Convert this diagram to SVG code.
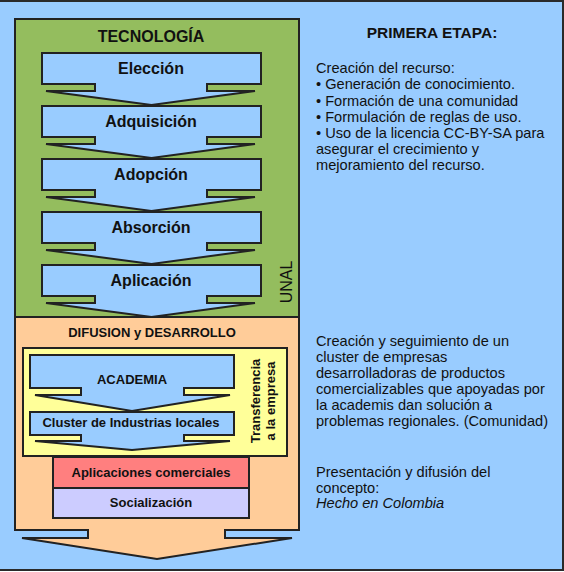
<svg xmlns="http://www.w3.org/2000/svg" width="564" height="572" viewBox="0 0 564 572">
<style>
.sh{stroke:#222;stroke-width:2;stroke-linejoin:miter}
.chev{fill:#99ccff}
.t{font-family:"Liberation Sans",Arial,sans-serif;fill:#111}
.b{font-weight:bold}
.c{text-anchor:middle}
.s16{font-size:16px}
.s13{font-size:13px}
.body{font-size:14.6px}
</style>
<rect x="-2" y="1" width="565" height="569" fill="#99ccff" stroke="#2a2a2a" stroke-width="2"/>

<g id="difusion">
  <path class="sh" fill="#ffcc99" d="M15,317 H299 V530 H225 V538 H292 L157,559 L22,538 H88 V530 H15 Z"/>
  <text class="t b c s13" x="152" y="337">DIFUSION y DESARROLLO</text>
</g>

<g id="tecnologia">
  <rect class="sh" x="15" y="19" width="284" height="298" fill="#94bd5e"/>
  <text class="t b c s16" x="151" y="42">TECNOLOGÍA</text>
  <text class="t c s16" transform="translate(292,282) rotate(-90)">UNAL</text>
</g>

<g id="eleccion">
  <path class="sh chev" d="M42,53 H261 V84 H207 V91 H255 L151.5,105 L46,91 H95 V84 H42 Z"/>
  <text class="t b c s16" x="151" y="74">Elección</text>
</g>
<g id="adquisicion">
  <path class="sh chev" d="M42,106 H261 V137 H207 V144 H255 L151.5,158 L46,144 H95 V137 H42 Z"/>
  <text class="t b c s16" x="151" y="127">Adquisición</text>
</g>
<g id="adopcion">
  <path class="sh chev" d="M42,159 H261 V190 H207 V197 H255 L151.5,211 L46,197 H95 V190 H42 Z"/>
  <text class="t b c s16" x="151" y="180">Adopción</text>
</g>
<g id="absorcion">
  <path class="sh chev" d="M42,212 H261 V243 H207 V250 H255 L151.5,264 L46,250 H95 V243 H42 Z"/>
  <text class="t b c s16" x="151" y="233">Absorción</text>
</g>
<g id="aplicacion">
  <path class="sh chev" d="M42,265 H261 V296 H207 V303 H255 L151.5,317 L46,303 H95 V296 H42 Z"/>
  <text class="t b c s16" x="151" y="286">Aplicación</text>
</g>

<g id="transferencia">
  <rect class="sh" x="23" y="348" width="264" height="108" fill="#ffff99"/>
  <text class="t b c s13" transform="translate(260,401) rotate(-90)">Transferencia</text>
  <text class="t b c s13" transform="translate(275,401) rotate(-90)">a la empresa</text>
</g>

<g id="academia">
  <path class="sh chev" d="M30,355 H234 V388 H184 V395 H230 L132,411 L35,395 H81 V388 H30 Z"/>
  <text class="t b c s13" x="132" y="384">ACADEMIA</text>
</g>
<g id="cluster">
  <path class="sh chev" d="M30,412 H234 V435 H184 V441 H230 L132,450 L35,441 H81 V435 H30 Z"/>
  <text class="t b c s13" x="131" y="427">Cluster de Industrias locales</text>
</g>

<g id="aplicaciones">
  <rect class="sh" x="53" y="457" width="196" height="31" fill="#ff7f7f"/>
  <text class="t b c s13" x="151" y="477">Aplicaciones comerciales</text>
</g>
<g id="socializacion">
  <rect class="sh" x="53" y="488" width="196" height="30" fill="#ccccff"/>
  <text class="t b c s13" x="151" y="507">Socialización</text>
</g>

<g id="connectors"></g>

<g id="primera-etapa">
  <text class="t b c" style="font-size:15.5px" x="432" y="38">PRIMERA ETAPA:</text>
  <text class="t body" x="316" y="73.3">Creación del recurso:</text>
  <text class="t body" x="316" y="89.4">• Generación de conocimiento.</text>
  <text class="t body" x="316" y="105.5">• Formación de una comunidad</text>
  <text class="t body" x="316" y="121.6">• Formulación de reglas de uso.</text>
  <text class="t body" x="316" y="137.7">• Uso de la licencia CC-BY-SA para</text>
  <text class="t body" x="316" y="153.8">asegurar el crecimiento y</text>
  <text class="t body" x="316" y="169.9">mejoramiento del recurso.</text>
</g>

<g id="cluster-texto">
  <text class="t body" x="316" y="346">Creación y seguimiento de un</text>
  <text class="t body" x="316" y="362">cluster de empresas</text>
  <text class="t body" x="316" y="378">desarrolladoras de productos</text>
  <text class="t body" x="316" y="394">comercializables que apoyadas por</text>
  <text class="t body" x="316" y="410">la academis dan solución a</text>
  <text class="t body" x="316" y="426">problemas regionales. (Comunidad)</text>
</g>

<g id="presentacion">
  <text class="t body" x="316" y="476.7">Presentación y difusión del</text>
  <text class="t body" x="316" y="492.5">concepto:</text>
  <text class="t body" x="316" y="508.3" font-style="italic">Hecho en Colombia</text>
</g>
</svg>
